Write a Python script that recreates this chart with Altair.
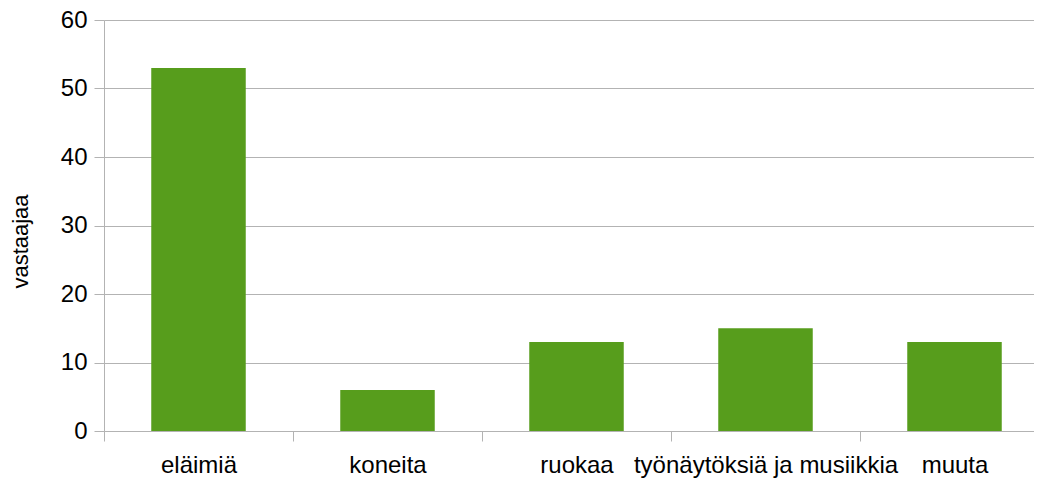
import altair as alt
import pandas as pd

categories = ["eläimiä", "koneita", "ruokaa", "työnäytöksiä ja musiikkia", "muuta"]
values = [53, 6, 13, 15, 13]
y_ticks = [0, 10, 20, 30, 40, 50, 60]

df = pd.DataFrame({"kategoria": categories, "vastaajaa": values})

FONT = "Liberation Sans"
GRID = "#b3b3b3"

chart = alt.Chart(df).mark_bar(color="#579d1c").encode(
    x=alt.X(
        "kategoria:N",
        sort=categories,
        title=None,
        scale=alt.Scale(paddingInner=0.5, paddingOuter=0.25),
        axis=alt.Axis(
            tickOffset=-94.5,
            labelOffset=94.5,
            labelAngle=0,
            labelFontSize=24,
            labelFont=FONT,
            labelColor="#000000",
            labelPadding=12,
            labelLimit=0,
            tickSize=10,
            tickColor=GRID,
            domainColor=GRID,
            domain=True,
            grid=False,
            labelOverlap=False,
            labelBound=False,
        ),
    ),
    y=alt.Y(
        "vastaajaa:Q",
        scale=alt.Scale(domain=[0, 60], nice=False),
        axis=alt.Axis(
            values=y_ticks,
            title="vastaajaa",
            titleFont=FONT,
            titleFontSize=22,
            titleFontWeight="normal",
            titleColor="#000000",
            titleAngle=270,
            titleAlign="center",
            titleBaseline="middle",
            titleX=-84,
            titleY=221,
            labelFontSize=24,
            labelFont=FONT,
            labelColor="#000000",
            labelPadding=7,
            tickSize=10,
            tickColor=GRID,
            domainColor=GRID,
            gridColor=GRID,
            grid=True,
        ),
    ),
).properties(
    width=945,
    height=411,
    autosize=alt.AutoSizeParams(type="none"),
    padding={"left": 96, "top": 12, "right": -15, "bottom": 55},
).configure_view(stroke=None)

chart.save("out.html", embed_options={"renderer": "svg", "actions": False})
